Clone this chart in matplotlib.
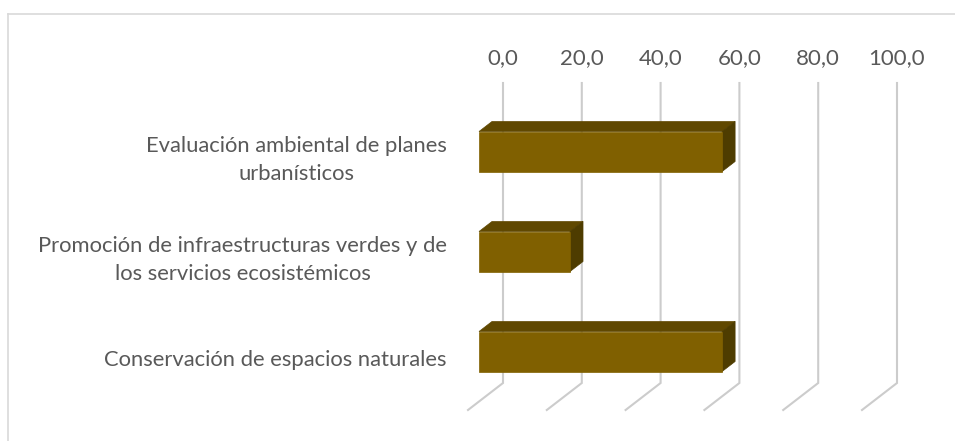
import matplotlib
matplotlib.use("Agg")
import matplotlib.pyplot as plt
from matplotlib.patches import Polygon
from matplotlib.lines import Line2D

# Data
categories = [
    "Evaluación ambiental de planes\nurbanísticos",
    "Promoción de infraestructuras verdes y de\nlos servicios ecosistémicos",
    "Conservación de espacios naturales",
]
values = [61.7, 23.1, 61.7]
tick_values = [0, 20, 40, 60, 80, 100]
tick_labels = ["0,0", "20,0", "40,0", "60,0", "80,0", "100,0"]

W, H, DPI = 955, 441, 100
fig = plt.figure(figsize=(W / DPI, H / DPI), dpi=DPI)
fig.patch.set_facecolor("white")

# chart-area frame (top and left edges visible)
fig.add_artist(Line2D([8 / W, 8 / W], [0, 1 - 14 / H], transform=fig.transFigure,
                      color="#d9d9d9", lw=1.2))
fig.add_artist(Line2D([8 / W, 1], [1 - 14 / H, 1 - 14 / H], transform=fig.transFigure,
                      color="#d9d9d9", lw=1.2))

# back wall of the plot area
left_px, right_px, top_px, bottom_px = 503, 897, 83, 383
ax = fig.add_axes([left_px / W, (H - bottom_px) / H,
                   (right_px - left_px) / W, (bottom_px - top_px) / H])
ax.set_xlim(0, 100)
ax.set_ylim(len(categories) + 0.5, 0.5)
ax.axis("off")

px_x = (right_px - left_px) / 100.0   # pixels per value unit
px_y = (bottom_px - top_px) / len(categories)  # pixels per category

# oblique depth vector (back wall -> front edge of floor), in data units
depth_dx = -35 / px_x
depth_dy = 27 / px_y

text_color = "#595959"
font = ["Lato", "DejaVu Sans"]

# 3-D gridlines: vertical on the back wall, diagonal across the floor
y_top, y_floor = 0.5, len(categories) + 0.5
for v in tick_values:
    ax.plot([v, v, v + depth_dx], [y_top, y_floor, y_floor + depth_dy],
            color="#cccccc", lw=1.5, clip_on=False, solid_joinstyle="miter", zorder=1)

# tick labels above the wall
for v, lab in zip(tick_values, tick_labels):
    ax.text(v, y_top - 25 / px_y, lab, ha="center", va="center",
            fontsize=16, color=text_color, family=font)

# 3-D bars
front_f, back_f = 24 / 35, 11 / 35
half_h = 0.2
c_front, c_top, c_side = "#806000", "#604800", "#4e3c00"
for i, v in enumerate(values):
    yc = i + 1
    fx, fy = depth_dx * front_f, depth_dy * front_f
    bx, by = depth_dx * back_f, depth_dy * back_f
    y0, y1 = yc - half_h, yc + half_h
    front = [(0 + fx, y0 + fy), (v + fx, y0 + fy), (v + fx, y1 + fy), (0 + fx, y1 + fy)]
    top = [(0 + fx, y0 + fy), (v + fx, y0 + fy), (v + bx, y0 + by), (0 + bx, y0 + by)]
    side = [(v + fx, y0 + fy), (v + bx, y0 + by), (v + bx, y1 + by), (v + fx, y1 + fy)]
    for pts, col in ((top, c_top), (side, c_side), (front, c_front)):
        ax.add_patch(Polygon(pts, closed=True, facecolor=col, edgecolor=col,
                             lw=0.5, clip_on=False, zorder=3))

# category labels at the front edge of the floor
for i, lab in enumerate(categories):
    yc = i + 1 + depth_dy
    ax.text(depth_dx - 21 / px_x, yc, lab, ha="right", va="center", multialignment="center",
            fontsize=15.8, color=text_color, family=font, linespacing=1.45)

fig.savefig("out.png", dpi=DPI, facecolor="white")
